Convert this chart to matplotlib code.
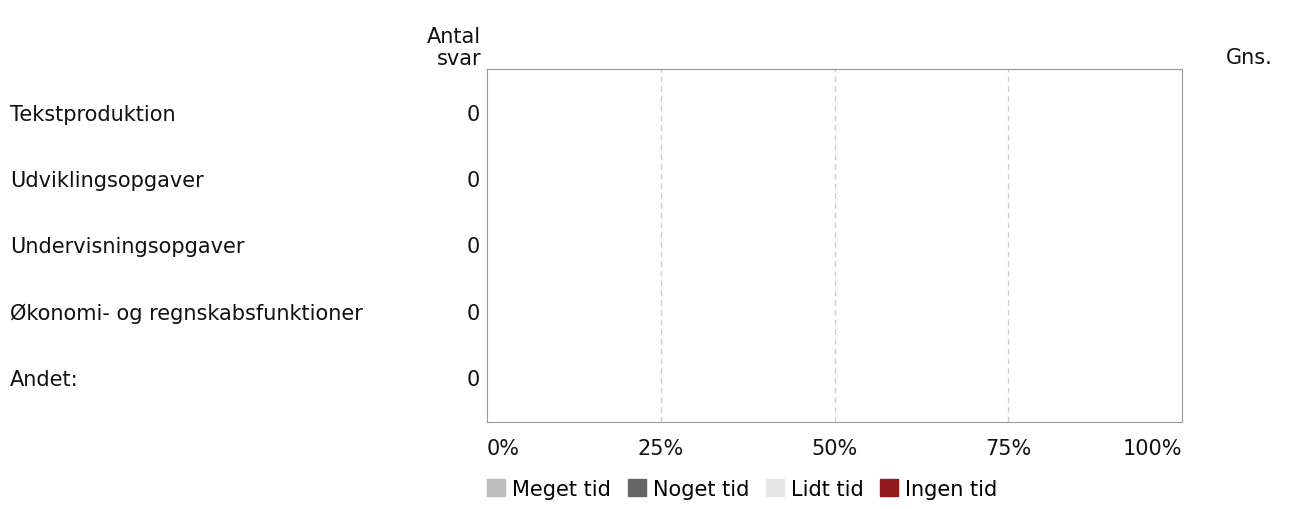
import matplotlib.pyplot as plt
import numpy as np

plt.rcParams['font.family'] = ['DejaVu Sans']

categories = ['Tekstproduktion', 'Udviklingsopgaver', 'Undervisningsopgaver',
              'Økonomi- og regnskabsfunktioner', 'Andet:']
counts = [0, 0, 0, 0, 0]
series_names = ['Meget tid', 'Noget tid', 'Lidt tid', 'Ingen tid']
series_values = [[0, 0, 0, 0, 0],
                 [0, 0, 0, 0, 0],
                 [0, 0, 0, 0, 0],
                 [0, 0, 0, 0, 0]]
series_colors = ['#bdbdbd', '#666666', '#e6e6e6', '#921a1d']
tick_values = [0, 25, 50, 75, 100]
tick_labels = ['0%', '25%', '50%', '75%', '100%']

W, H = 1291, 510
fig = plt.figure(figsize=(W / 100, H / 100), dpi=100)
ax = fig.add_axes([487 / W, 1 - 423 / H, (1182 - 487) / W, (423 - 70) / H])

fs = 15
txt = '#111111'
y = np.arange(len(categories))
left = np.zeros(len(categories))
for name, vals, col in zip(series_names, series_values, series_colors):
    ax.barh(y, vals, left=left, color=col, height=0.5, label=name)
    left += np.array(vals)

ax.set_xlim(0, 100)
ax.set_ylim(4.65, -0.68)
for v in tick_values[1:-1]:
    ax.axvline(v, color='#cccccc', linestyle=(0, (4, 3)), linewidth=1)
for s in ax.spines.values():
    s.set_color('#999999')
ax.set_xticks([])
ax.set_yticks([])

# category labels and counts
for yi, cat, c in zip(y, categories, counts):
    ax.annotate(cat, xy=(10 / W, yi), xycoords=('figure fraction', 'data'),
                ha='left', va='center', fontsize=fs, color=txt)
    ax.text(-1.0, yi, str(c), ha='right', va='center', fontsize=fs, color=txt)

# x tick labels
for v, lab in zip(tick_values, tick_labels):
    ha = 'left' if v == 0 else ('right' if v == 100 else 'center')
    ax.text(v, 4.65 + 0.4, lab, ha=ha, va='center', fontsize=fs, color=txt,
            clip_on=False)

fig.text(481 / W, 1 - 48 / H, 'Antal\nsvar', ha='right', va='center', fontsize=fs,
         color=txt, linespacing=1.1)
fig.text(1273 / W, 1 - 58 / H, 'Gns.', ha='right', va='center', fontsize=fs,
         color=txt)

handles = [plt.Rectangle((0, 0), 1, 1, color=c) for c in series_colors]
fig.legend(handles, series_names, loc='center left', bbox_to_anchor=(487 / W, 1 - 490 / H),
           ncol=4, frameon=False, fontsize=fs, handlelength=0.87, handleheight=0.87,
           handletextpad=0.33, columnspacing=0.8, borderaxespad=0, borderpad=0)

fig.savefig('out.png', dpi=100)
